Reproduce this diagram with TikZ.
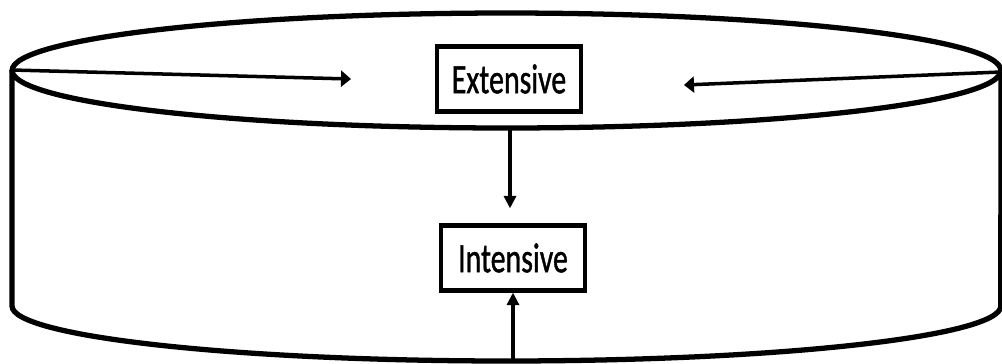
\documentclass[tikz,border=0pt]{standalone}
\usepackage{fontspec}
\setmainfont{Carlito}
\newfontfamily\labelfont{Carlito}[FakeBold=1.2]
\usepackage{graphicx}
\usetikzlibrary{arrows.meta}

% labels are set a little taller than wide
\newcommand{\tall}[1]{\scalebox{1}[1.4]{#1}}

\begin{document}
\begin{tikzpicture}[x=0.02cm, y=-0.02cm,
  every node/.style={font=\labelfont\fontsize{17}{20}\selectfont},
  box/.style={draw, line width=2.4pt, minimum width=2.88cm, minimum height=1.3cm, inner sep=0pt},
  rim/.style={line width=3pt},
  hflow/.style={line width=2pt, -{Triangle[length=0.2cm, width=0.32cm]}},
  vflow/.style={line width=2pt, -{Triangle[length=0.25cm, width=0.24cm]}}]
  \useasboundingbox (0,0) rectangle (1002,363);

  % drum: top rim, sides and front edge
  \draw[rim] (506.5,70.5) ellipse [x radius=9.89cm, y radius=1.15cm];
  \draw[rim] (12,70) -- (12,306)
    arc [start angle=180, end angle=360, x radius=9.89cm, y radius=1.1cm]
    -- (1001,72);

  \node[box] (ext) at (509,79) {\tall{Extensive}};
  \node[box] (int) at (513,258) {\tall{Intensive}};

  \coordinate (lrim) at (12,70);
  \coordinate (rrim) at (1001,72);
  \coordinate (ltip) at (351,79);
  \coordinate (rtip) at (684,85);
  \coordinate (rimfront) at (510,128);
  \coordinate (base) at (513,361);

  \draw[hflow] (lrim) -- (ltip);
  \draw[hflow] (rrim) -- (rtip);
  \draw[vflow, shorten >=0.3cm] (rimfront) -- (rimfront |- int.north);
  \draw[vflow] (base) -- (int.south);
\end{tikzpicture}
\end{document}
